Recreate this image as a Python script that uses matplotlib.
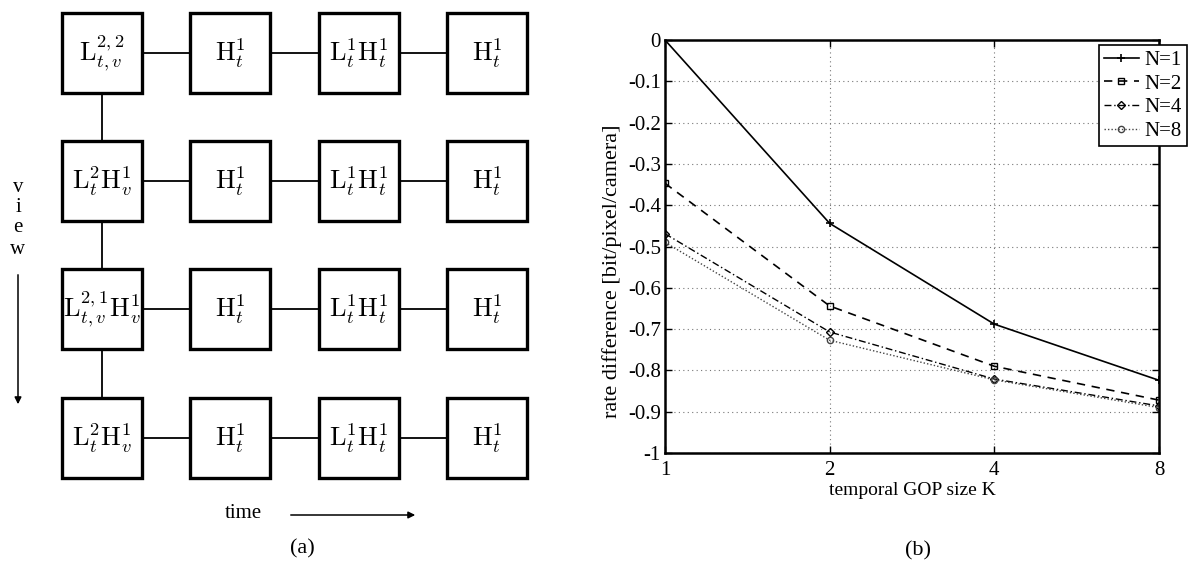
import matplotlib
matplotlib.use("Agg")
import matplotlib.pyplot as plt
from matplotlib.patches import Rectangle
import numpy as np

plt.rcParams['font.family'] = ['Liberation Serif', 'DejaVu Serif']
plt.rcParams['mathtext.fontset'] = 'cm'
plt.rcParams['axes.unicode_minus'] = False

# ---------------- data ----------------
box_labels = [
    [r'$\mathrm{L}_{t,v}^{2,2}$', r'$\mathrm{H}_t^1$', r'$\mathrm{L}_t^1\mathrm{H}_t^1$', r'$\mathrm{H}_t^1$'],
    [r'$\mathrm{L}_t^2\mathrm{H}_v^1$', r'$\mathrm{H}_t^1$', r'$\mathrm{L}_t^1\mathrm{H}_t^1$', r'$\mathrm{H}_t^1$'],
    [r'$\mathrm{L}_{t,v}^{2,1}\mathrm{H}_v^1$', r'$\mathrm{H}_t^1$', r'$\mathrm{L}_t^1\mathrm{H}_t^1$', r'$\mathrm{H}_t^1$'],
    [r'$\mathrm{L}_t^2\mathrm{H}_v^1$', r'$\mathrm{H}_t^1$', r'$\mathrm{L}_t^1\mathrm{H}_t^1$', r'$\mathrm{H}_t^1$'],
]

K = [1, 2, 4, 8]
rate_N1 = [0.000, -0.444, -0.688, -0.824]
rate_N2 = [-0.347, -0.644, -0.790, -0.872]
rate_N4 = [-0.469, -0.707, -0.821, -0.886]
rate_N8 = [-0.490, -0.727, -0.823, -0.890]
series_labels = ['N=1', 'N=2', 'N=4', 'N=8']
yticks = [0, -0.1, -0.2, -0.3, -0.4, -0.5, -0.6, -0.7, -0.8, -0.9, -1]
ytick_labels = ['0', '-0.1', '-0.2', '-0.3', '-0.4', '-0.5', '-0.6', '-0.7', '-0.8', '-0.9', '-1']

W, H = 1193, 566
fig = plt.figure(figsize=(W / 100, H / 100), dpi=100)

# ---------------- (a) diagram ----------------
ax0 = fig.add_axes([0, 0, 1, 1])
ax0.set_xlim(0, W)
ax0.set_ylim(H, 0)
ax0.axis('off')

col_x = [102, 230, 359, 487]
row_y = [53, 181, 309, 438]
bs = 80
for r, yc in enumerate(row_y):
    for c in range(len(col_x) - 1):
        ax0.plot([col_x[c] + bs / 2, col_x[c + 1] - bs / 2], [yc, yc], color='black', lw=1.3)
for r in range(len(row_y) - 1):
    ax0.plot([col_x[0], col_x[0]], [row_y[r] + bs / 2, row_y[r + 1] - bs / 2], color='black', lw=1.3)
for r, yc in enumerate(row_y):
    for c, xc in enumerate(col_x):
        ax0.add_patch(Rectangle((xc - bs / 2, yc - bs / 2), bs, bs, fill=False,
                                edgecolor='black', lw=2.4))
        ax0.text(xc, yc, box_labels[r][c], ha='center', va='center', fontsize=19)

for ch, yy in zip('view', [188, 207, 228, 249]):
    ax0.text(18, yy, ch, ha='center', va='center', fontsize=15)
ax0.annotate('', xy=(18, 407), xytext=(18, 272),
             arrowprops=dict(arrowstyle='-|>', color='black', lw=1.1, mutation_scale=10))
ax0.text(243, 514, 'time', ha='center', va='center', fontsize=15)
ax0.annotate('', xy=(418, 515), xytext=(288, 515),
             arrowprops=dict(arrowstyle='-|>', color='black', lw=1.1, mutation_scale=10))
ax0.text(302, 549, '(a)', ha='center', va='center', fontsize=16)
ax0.text(918, 551, '(b)', ha='center', va='center', fontsize=16)

# ---------------- (b) plot ----------------
left, right, top, bottom = 665, 1159, 40, 453
ax = fig.add_axes([left / W, (H - bottom) / H, (right - left) / W, (bottom - top) / H])
ax.set_xscale('log', base=2)
ms = 4
ax.plot(K, rate_N1, color='black', ls='-', marker='+', ms=6, mew=1.2, lw=1.2, label=series_labels[0])
ax.plot(K, rate_N2, color='black', ls='--', marker='s', ms=ms, mfc='none', mew=1.0, lw=1.2,
        dashes=(5, 4), label=series_labels[1])
ax.plot(K, rate_N4, color='black', ls='-.', marker='D', ms=ms, mfc='none', mew=1.0, lw=1.0,
        dashes=(5, 2, 1, 2), label=series_labels[2])
ax.plot(K, rate_N8, color='#444444', ls=':', marker='o', ms=ms + 0.5, mfc='none', mew=1.0, lw=1.0,
        dashes=(1, 1.5), label=series_labels[3])

ax.set_xlim(1, 8)
ax.set_ylim(-1, 0)
ax.set_xticks(K)
ax.set_xticklabels([str(k) for k in K])
ax.xaxis.set_minor_locator(matplotlib.ticker.NullLocator())
ax.set_yticks(yticks)
ax.set_yticklabels(ytick_labels)
ax.tick_params(direction='in', top=True, right=True, length=5, width=1.0, labelsize=15, pad=3)
ax.tick_params(axis='x', pad=6)
ax.grid(True, color='#777777', ls=(0, (1, 3)), lw=0.8)
for s in ax.spines.values():
    s.set_linewidth(1.8)
ax.set_xlabel('temporal GOP size K', fontsize=14, labelpad=1)
ax.set_ylabel('rate difference [bit/pixel/camera]', fontsize=16, labelpad=2)
ax.yaxis.set_label_coords(-0.088, 0.44)

leg = ax.legend(loc='upper right', bbox_to_anchor=(1187 / W, 1 - 45 / H),
                bbox_transform=fig.transFigure, fontsize=15, frameon=True, fancybox=False,
                edgecolor='black', handlelength=1.7, handletextpad=0.25, borderpad=0.25,
                labelspacing=0.2, borderaxespad=0)
leg.get_frame().set_linewidth(1.2)
leg.get_frame().set_alpha(1)

fig.savefig('out.png', dpi=100)
